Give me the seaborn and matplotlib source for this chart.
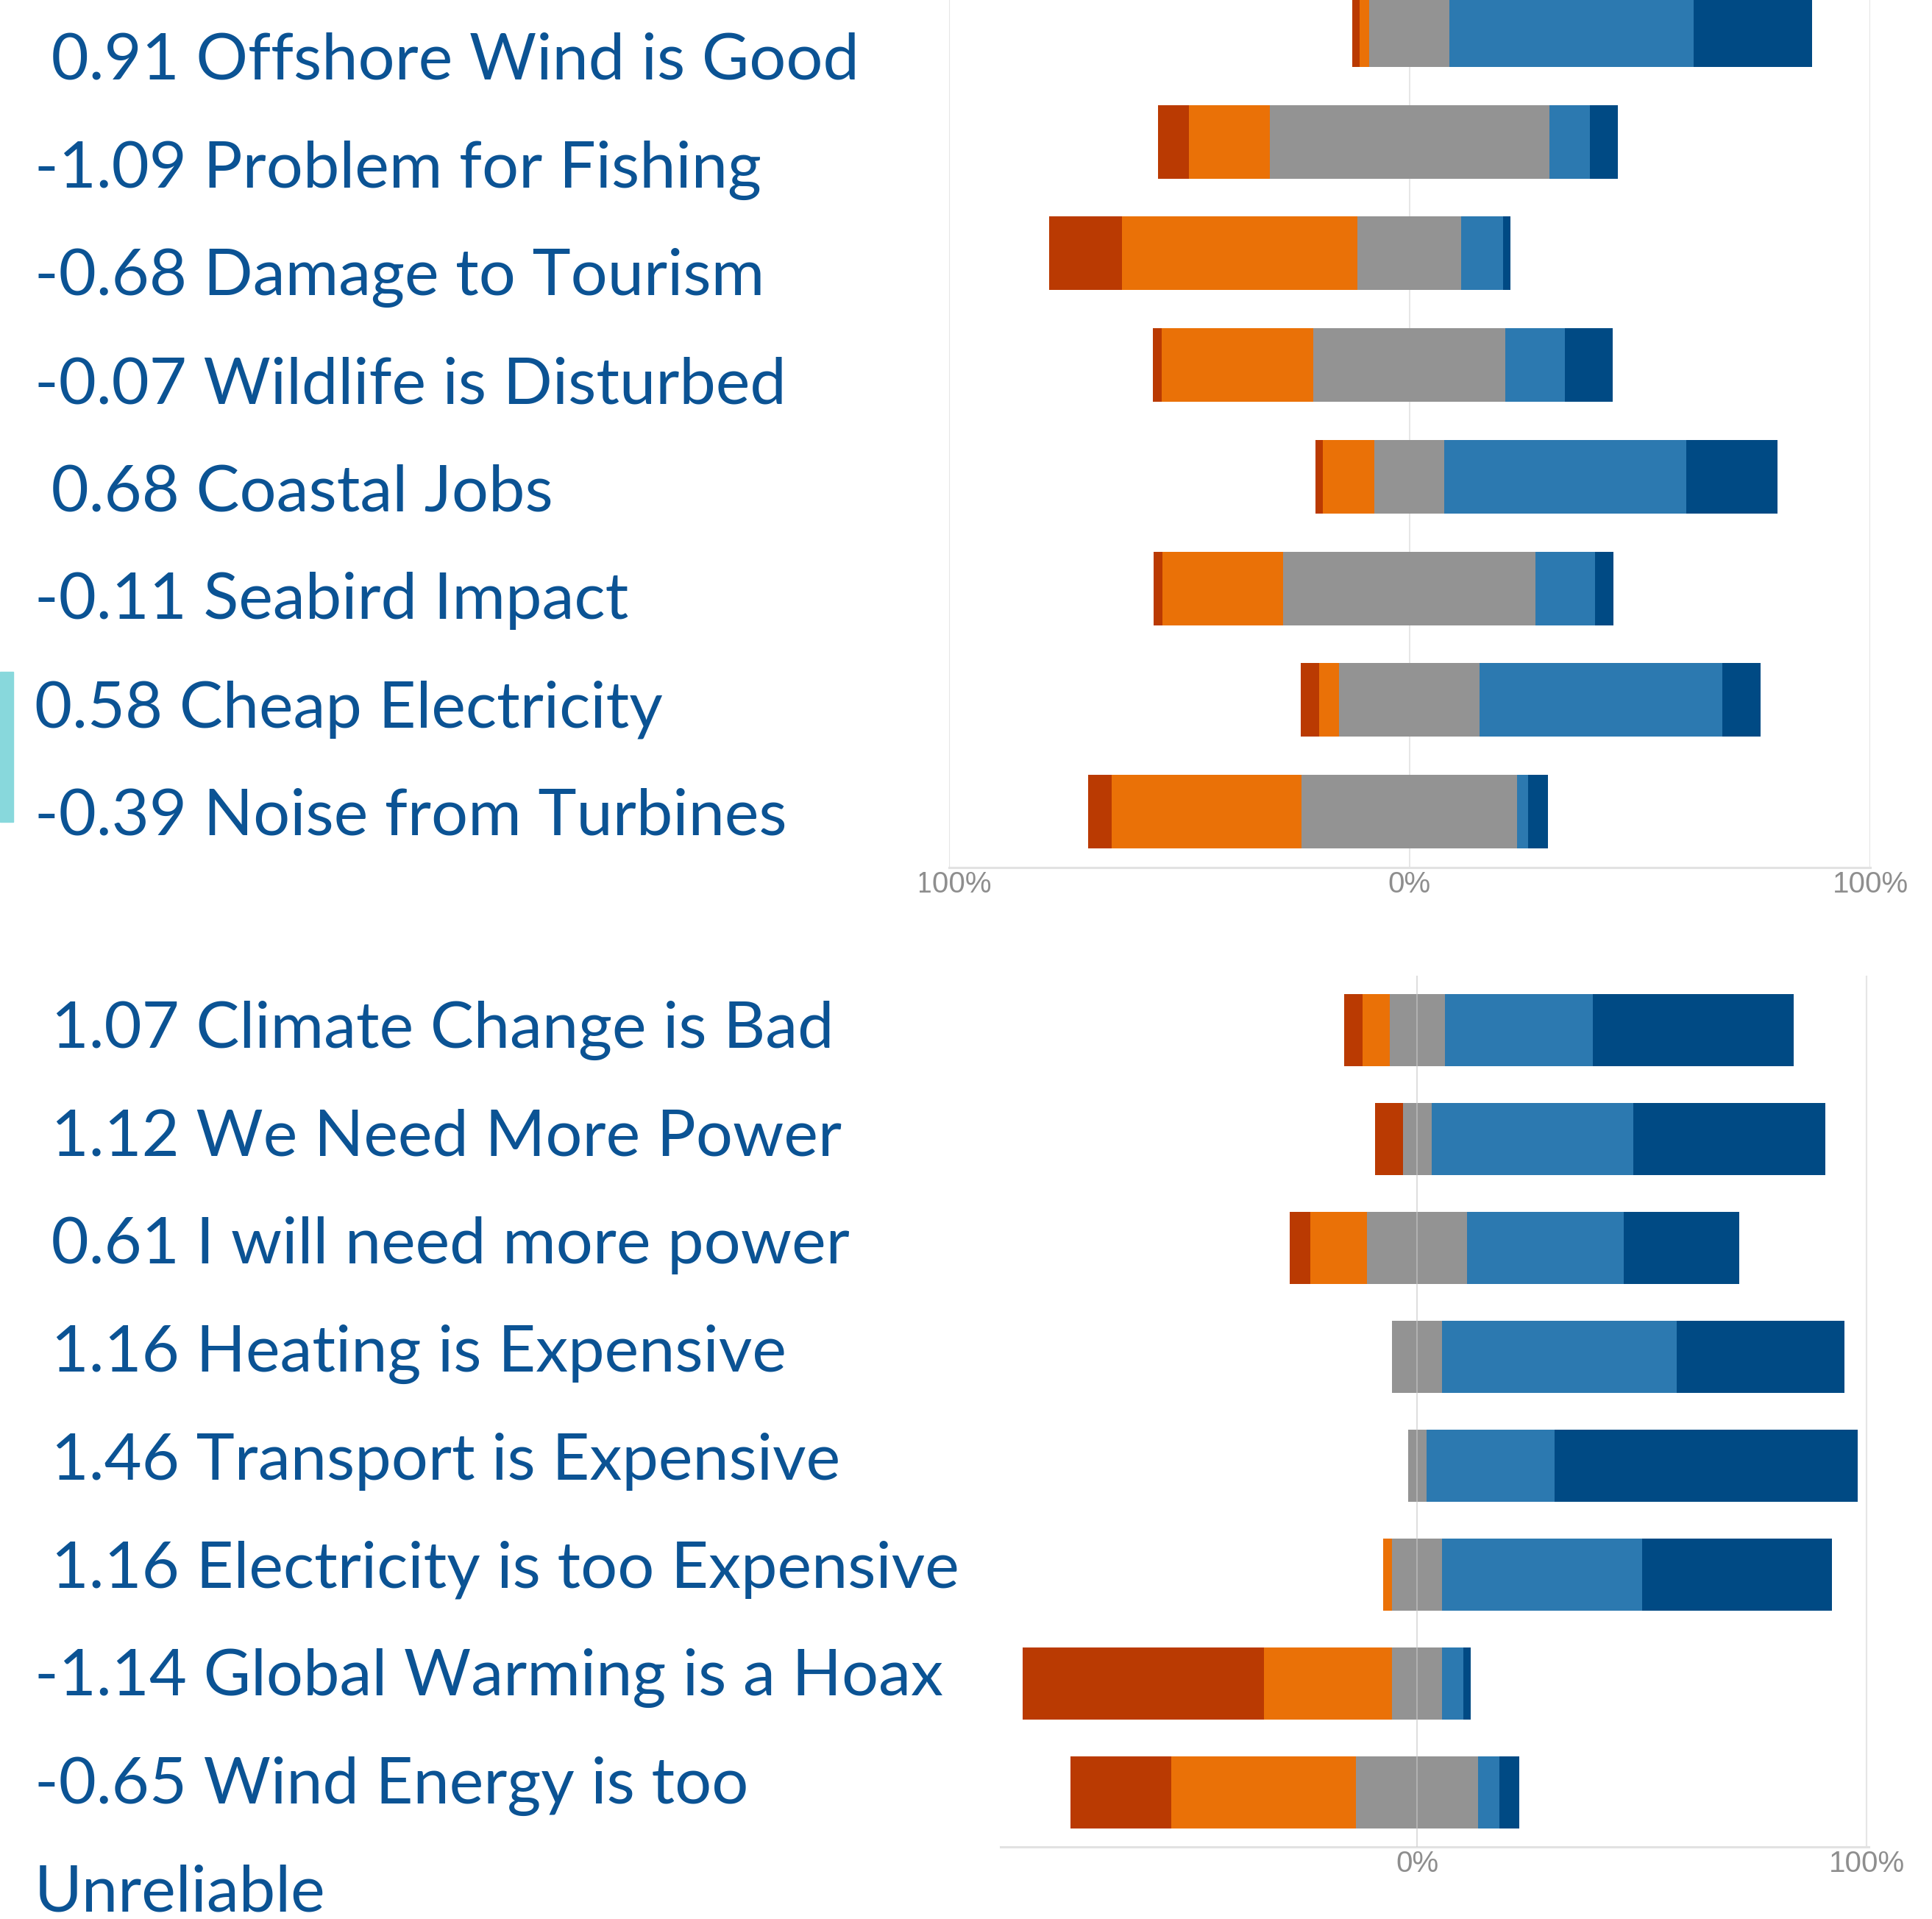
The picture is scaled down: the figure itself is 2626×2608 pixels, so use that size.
import numpy as np
import pandas as pd
import seaborn as sns
import matplotlib.pyplot as plt
from matplotlib.patches import Rectangle
from matplotlib.transforms import Bbox

# likert shares (% of respondents)
COLORS = ["#BA3A02", "#EA7107", "#939393", "#2C79B0", "#004A84"]
TEXT_BLUE = "#0B5394"

top_labels = [" 0.91 Offshore Wind is Good", "-1.09 Problem for Fishing",
              "-0.68 Damage to Tourism", "-0.07 Wildlife is Disturbed",
              " 0.68 Coastal Jobs", "-0.11 Seabird Impact",
              "0.58 Cheap Electricity", "-0.39 Noise from Turbines"]
top_strong_dis = [1.6, 6.7, 15.8, 1.9, 1.6, 1.9, 4.0, 5.1]
top_dis = [2.1, 17.6, 51.1, 32.9, 11.2, 26.2, 4.3, 41.2]
top_neutral = [17.4, 60.7, 22.5, 41.7, 15.2, 54.8, 30.5, 46.8]
top_agree = [52.9, 8.8, 9.1, 12.8, 52.4, 12.8, 52.7, 2.4]
top_strong_agr = [25.7, 6.1, 1.6, 10.4, 19.8, 4.0, 8.3, 4.3]

bot_labels = [" 1.07 Climate Change is Bad", " 1.12 We Need More Power",
              " 0.61 I will need more power", " 1.16 Heating is Expensive",
              " 1.46 Transport is Expensive", " 1.16 Electricity is too Expensive",
              "-1.14 Global Warming is a Hoax", "-0.65 Wind Energy is too\nUnreliable"]
bot_strong_dis = [4.1, 6.3, 4.7, 0.0, 0.0, 0.0, 53.7, 22.5]
bot_dis = [6.0, 0.0, 12.6, 0.0, 0.0, 1.9, 28.5, 41.1]
bot_neutral = [12.3, 6.3, 22.2, 11.2, 4.1, 11.2, 11.2, 27.1]
bot_agree = [32.9, 44.9, 34.8, 52.1, 28.5, 44.4, 4.7, 4.7]
bot_strong_agr = [44.7, 42.7, 25.8, 37.3, 67.4, 42.2, 1.6, 4.4]

W, H = 2626, 2608
TICK_FONT = ["Liberation Sans Narrow", "Liberation Sans", "DejaVu Sans"]


def draw_panel(ax, sd, d, n, a, sa, zero_on_top):
    """diverging stacked bars, neutral block centred on 0"""
    df = pd.DataFrame({"item": [f"q{i}" for i in range(len(n))],
                       "sd": sd, "d": d, "n": n, "a": a, "sa": sa})
    half = df["n"] / 2
    # longest pieces first, shorter ones painted over them
    layers = [(half + df["a"] + df["sa"], COLORS[4]),
              (half + df["a"], COLORS[3]),
              (-(half + df["d"] + df["sd"]), COLORS[0]),
              (-(half + df["d"]), COLORS[1]),
              (half, COLORS[2]),
              (-half, COLORS[2])]
    for vals, c in layers:
        sns.barplot(x=vals, y=df["item"], orient="h", color=c, saturation=1,
                    width=0.66, errorbar=None, linewidth=0, ax=ax, zorder=2)
    ax.set_ylim(len(n) - 0.5, -0.5)
    ax.set_yticks([])
    ax.set_xlabel("")
    ax.set_ylabel("")
    for s in ["top", "left", "right"]:
        ax.spines[s].set_visible(False)
    ax.spines["bottom"].set_color("#E2E2E2")
    ax.spines["bottom"].set_linewidth(2.2)
    for xv in (-100, 100):
        ax.axvline(xv, color="#E6E6E6", lw=1.6, zorder=0)
    ax.axvline(0, color="#C8C8C8" if zero_on_top else "#E6E6E6", lw=1.4,
               alpha=0.6 if zero_on_top else 1, zorder=5 if zero_on_top else 0)
    ax.tick_params(axis="x", length=0, pad=3, labelsize=29, labelcolor="#8E8E8E")


sns.set_style("white")
plt.rcParams["font.family"] = ["Lato", "DejaVu Sans"]

fig = plt.figure(figsize=(W / 100, H / 100), dpi=100)

ax1 = fig.add_axes([1289.5 / W, 1 - 1179 / H, 1252.7 / W, (1179 + 35) / H])
draw_panel(ax1, top_strong_dis, top_dis, top_neutral, top_agree, top_strong_agr, False)
ax1.set_xlim(-100, 100)
ax1.set_xticks([-100, 0, 100])
ax1.set_xticklabels(["-100%", "0%", "100%"])
for lab in ax1.get_xticklabels():
    lab.set_family(TICK_FONT)
# the left tick label is cut off in the original screenshot
ax1.get_xticklabels()[0].set_clip_box(Bbox.from_extents(1250, 0, W, H))
ax1.get_xticklabels()[0].set_clip_on(True)

ax2 = fig.add_axes([1359.9 / W, 1 - 2510 / H, 1180.4 / W, (2510 - 1326) / H])
draw_panel(ax2, bot_strong_dis, bot_dis, bot_neutral, bot_agree, bot_strong_agr, True)
ax2.set_xlim(-92.7, 100.5)
ax2.set_xticks([0, 100])
ax2.set_xticklabels(["0%", "100%"])
for lab in ax2.get_xticklabels():
    lab.set_family(TICK_FONT)

# statement labels with mean scores, on the left
step = 146.7
row = 0
for lab in top_labels:
    for line in lab.split("\n"):
        fig.text(47 / W, 1 - (108 + step * row) / H, line, fontsize=63.5,
                 color=TEXT_BLUE, va="baseline", ha="left")
        row += 1
row = 0
for lab in bot_labels:
    for line in lab.split("\n"):
        fig.text(47 / W, 1 - (1424 + step * row) / H, line, fontsize=63.5,
                 color=TEXT_BLUE, va="baseline", ha="left")
        row += 1

# small teal marker at the left edge
fig.patches.append(Rectangle((0, 1 - 1117 / H), 18 / W, 204 / H,
                             transform=fig.transFigure, color="#88D8DC"))

fig.savefig("out.png", dpi=100)
